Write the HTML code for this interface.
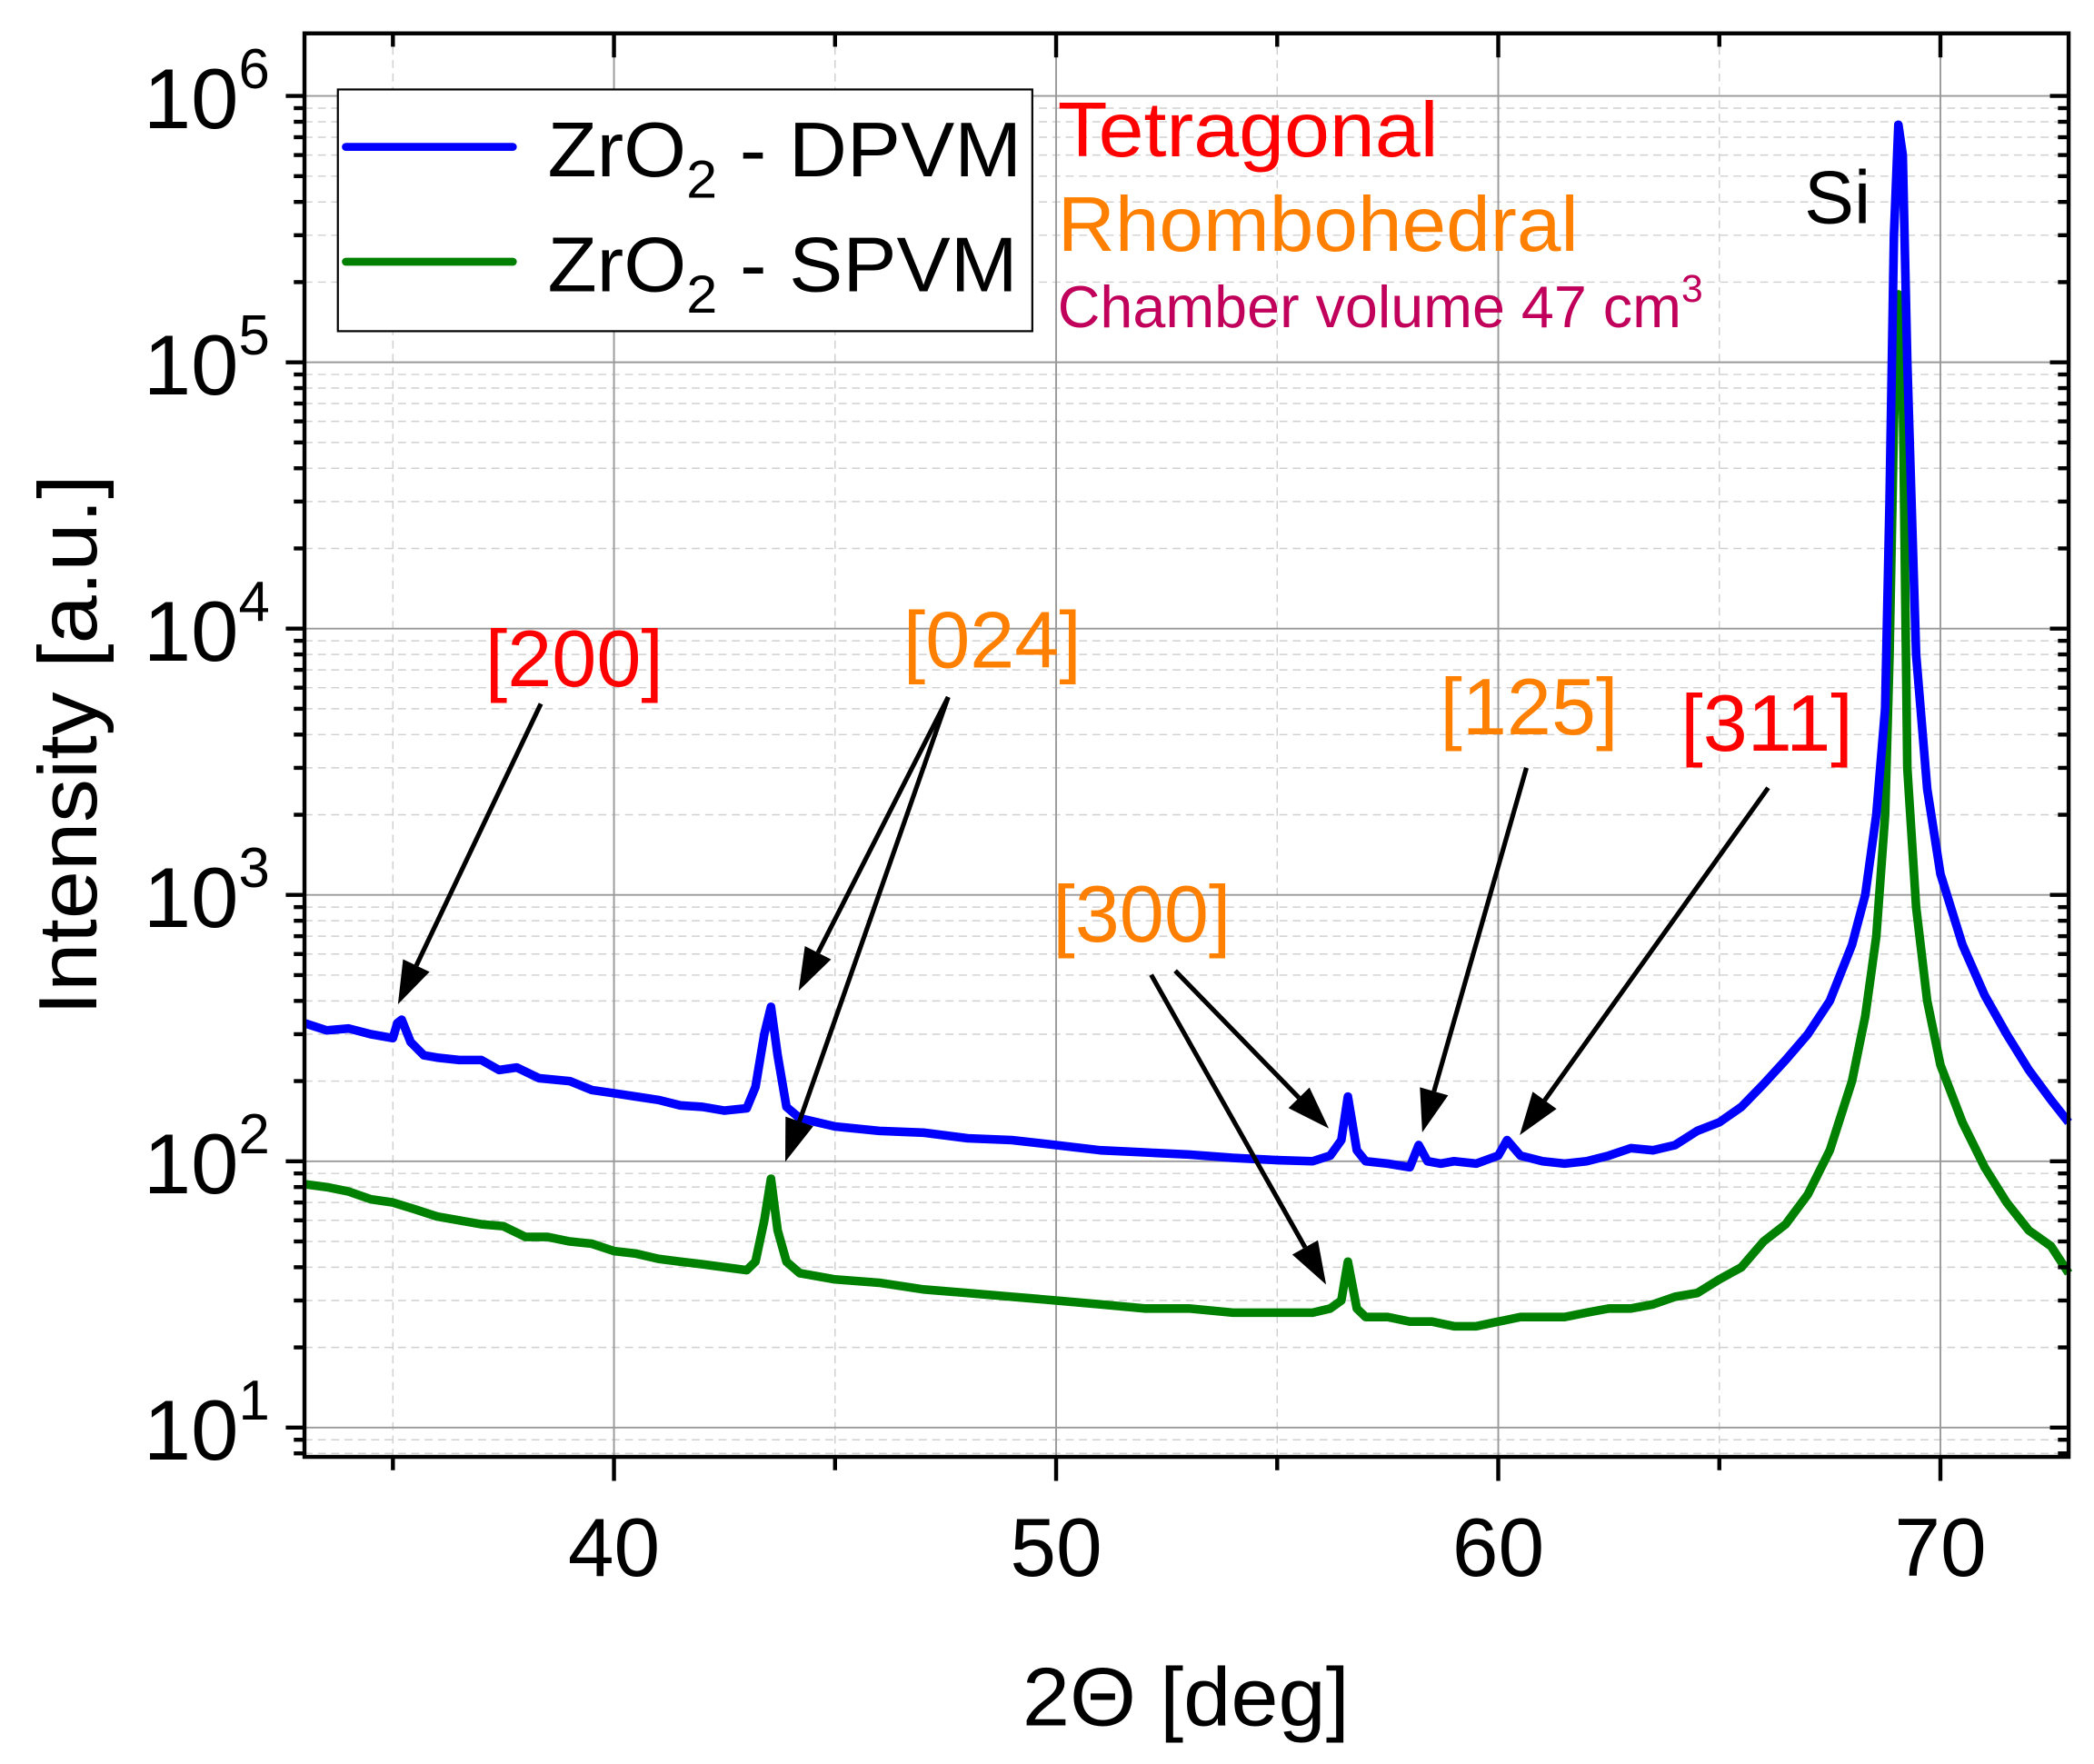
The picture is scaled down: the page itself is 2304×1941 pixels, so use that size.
<!DOCTYPE html>
<html><head><meta charset="utf-8"><style>
html,body{margin:0;padding:0;background:#fff}
svg{display:block}
text{font-family:"Liberation Sans",sans-serif}
</style></head><body>
<svg id="chart" width="2304" height="1941" viewBox="0 0 1568 1321" preserveAspectRatio="none" xmlns="http://www.w3.org/2000/svg">
<g id="grid"></g>
<g id="series"></g>
<g id="annot"></g>
<g id="axes"></g>
<g>
<rect x="253" y="67" width="520" height="181" fill="#fff" stroke="#000" stroke-width="1.5"/>
<line x1="259" y1="110" x2="384" y2="110" stroke="#0000ff" stroke-width="6" stroke-linecap="round"/>
<text x="410" y="132" font-size="58" textLength="355" lengthAdjust="spacingAndGlyphs">ZrO<tspan font-size="40" dy="16">2</tspan><tspan dy="-16"> - DPVM</tspan></text>
<line x1="259" y1="196" x2="384" y2="196" stroke="#008000" stroke-width="6" stroke-linecap="round"/>
<text x="410" y="218" font-size="58" textLength="352" lengthAdjust="spacingAndGlyphs">ZrO<tspan font-size="40" dy="16">2</tspan><tspan dy="-16"> - SPVM</tspan></text>
</g>
<text x="792" y="117" font-size="58" fill="#ff0000" textLength="285" lengthAdjust="spacingAndGlyphs">Tetragonal</text>
<text x="792" y="188" font-size="58" fill="#ff8000" textLength="390" lengthAdjust="spacingAndGlyphs">Rhombohedral</text>
<text x="792" y="245" font-size="44" fill="#c0005a">Chamber volume 47 cm<tspan font-size="29" dy="-19">3</tspan></text>
<text x="1351" y="167" font-size="56" fill="#000">Si</text>
<text x="0" y="0" font-size="62" transform="translate(72,558) rotate(-90)" text-anchor="middle" textLength="405" lengthAdjust="spacingAndGlyphs">Intensity [a.u.]</text>
<text x="888" y="1292" font-size="62" text-anchor="middle" textLength="245" lengthAdjust="spacingAndGlyphs">2Θ [deg]</text>
</svg>
<script>
const blueX=[33,33.5,34,34.5,35,35.1,35.2,35.4,35.7,36,36.5,37,37.4,37.8,38.3,39,39.5,40,40.5,41,41.5,42,42.5,43,43.2,43.4,43.55,43.7,43.9,44.2,45,46,47,48,49,50,51,52,53,54,55,55.8,56.2,56.45,56.6,56.8,57,57.5,58,58.2,58.4,58.7,59,59.5,60,60.2,60.5,61,61.5,62,62.5,63,63.5,64,64.5,65,65.5,66,66.5,67,67.5,68,68.3,68.55,68.75,68.85,68.95,69.05,69.15,69.25,69.45,69.7,70,70.5,71,71.5,72,72.5,72.9];
const blueY=[330,310,315,300,290,330,340,280,250,245,240,240,220,225,205,200,185,180,175,170,162,160,155,158,190,300,380,250,160,145,135,130,128,122,120,115,110,108,106,103,101,100,105,120,175,110,100,98,95,115,100,98,100,98,105,120,105,100,98,100,105,112,110,115,130,140,160,195,240,300,400,650,1000,2000,5000,30000,300000,780000,600000,100000,8000,2500,1200,650,420,300,220,170,140];
const greenX=[33,33.5,34,34.5,35,35.5,36,36.5,37,37.5,38,38.5,39,39.5,40,40.5,41,41.5,42,42.5,43,43.2,43.4,43.55,43.7,43.9,44.2,45,46,47,48,49,50,51,52,53,54,55,55.8,56.2,56.45,56.6,56.8,57,57.5,58,58.5,59,59.5,60,60.5,61,61.5,62,62.5,63,63.5,64,64.5,65,65.5,66,66.5,67,67.5,68,68.3,68.55,68.75,68.85,68.95,69.05,69.15,69.25,69.45,69.7,70,70.5,71,71.5,72,72.5,72.9];
const greenY=[82,80,77,72,70,66,62,60,58,57,52,52,50,49,46,45,43,42,41,40,39,42,60,86,55,42,38,36,35,33,32,31,30,29,28,28,27,27,27,28,30,42,28,26,26,25,25,24,24,25,26,26,26,27,28,28,29,31,32,36,40,50,58,75,110,200,350,700,2000,8000,60000,180000,80000,3000,900,400,230,140,95,70,55,48,38];
const xTicks=[40,50,60,70];
const yExp=[1,2,3,4,5,6];
const X0=33,X1=72.9,PL=228,PR=1549,PT=25,PB=1091;
const LY0=0.89,LY1=6.235;
function sx(v){return PL+(v-X0)/(X1-X0)*(PR-PL);}
function sy(v){return PB-(Math.log10(v)-LY0)/(LY1-LY0)*(PB-PT);}
const NS="http://www.w3.org/2000/svg";
function mk(p,tag,a){const e=document.createElementNS(NS,tag);for(const k in a)e.setAttribute(k,a[k]);p.appendChild(e);return e;}
const grid=document.getElementById('grid'),axes=document.getElementById('axes'),ser=document.getElementById('series'),ann=document.getElementById('annot');
for(let e=0;e<=6;e++)for(let m=2;m<=9;m++){const v=m*Math.pow(10,e);const y=sy(v);if(y<PT||y>PB)continue;
const l=mk(grid,'line',{x1:PL,x2:PR,y1:y,y2:y,stroke:'#d0d0d0','stroke-width':1,'stroke-dasharray':'6,4'});

}
for(let x=35;x<=70;x+=10){const l=mk(grid,'line',{x1:sx(x),x2:sx(x),y1:PT,y2:PB,stroke:'#d0d0d0','stroke-width':1,'stroke-dasharray':'6,4'});

}
yExp.forEach(e=>{const y=sy(Math.pow(10,e));const l=mk(grid,'line',{x1:PL,x2:PR,y1:y,y2:y,stroke:'#999','stroke-width':1.3});

});
xTicks.forEach(x=>{const l=mk(grid,'line',{x1:sx(x),x2:sx(x),y1:PT,y2:PB,stroke:'#999','stroke-width':1.3});

});
function line(xs,ys,col,name){let d='';xs.forEach((x,i)=>{d+=(i?'L':'M')+sx(x).toFixed(1)+','+sy(ys[i]).toFixed(1);});
const p=mk(ser,'path',{d:d,fill:'none',stroke:col,'stroke-width':6.5,'stroke-linejoin':'round'});

}
line(greenX,greenY,'#008000','series-spvm');
line(blueX,blueY,'#0000ff','series-dpvm');
const fr=mk(axes,'rect',{x:PL,y:PT,width:PR-PL,height:PB-PT,fill:'none',stroke:'#000','stroke-width':3});


for(let x=35;x<=70;x+=5){const major=x%10===0;const X=sx(x);
mk(axes,'line',{x1:X,x2:X,y1:PB,y2:PB+(major?18:10),stroke:'#000','stroke-width':3});
mk(axes,'line',{x1:X,x2:X,y1:PT,y2:PT+(major?18:10),stroke:'#000','stroke-width':3});}
xTicks.forEach(x=>{const t=mk(axes,'text',{x:sx(x),y:1180,'font-size':62,'text-anchor':'middle'});t.textContent=x;

});
for(let e=0;e<=6;e++)for(let m=1;m<=9;m++){const v=m*Math.pow(10,e);const y=sy(v);if(y<PT||y>PB)continue;const L=m===1?14:8;
mk(axes,'line',{x1:PL-L,x2:PL,y1:y,y2:y,stroke:'#000','stroke-width':3});
mk(axes,'line',{x1:PR-L,x2:PR,y1:y,y2:y,stroke:'#000','stroke-width':3});}
yExp.forEach(e=>{const t=mk(axes,'text',{x:202,y:sy(Math.pow(10,e))+24,'font-size':64,'text-anchor':'end'});t.textContent='10';
const s=mk(t,'tspan',{'font-size':42,dy:-30});s.textContent=e;

});
const labels=[['[200]',430,514,'#ff0000'],['[024]',743,500,'#ff8000'],['[125]',1145,550,'#ff8000'],['[311]',1323,562,'#ff0000'],['[300]',855,705,'#ff8000']];
labels.forEach(l=>{const t=mk(ann,'text',{x:l[1],y:l[2],'font-size':60,fill:l[3],'text-anchor':'middle'});t.textContent=l[0];

});
const arrows=[[405,527,298,752],[710,522,598,742],[710,522,588,870],[880,727,995,845],[862,730,993,962],[1143,575,1065,848],[1324,590,1138,850]];
arrows.forEach(a=>{const [x1,y1,x2,y2]=a;const dx=x2-x1,dy=y2-y1,L=Math.hypot(dx,dy),ux=dx/L,uy=dy/L;const h=32,w=11;
const bx=x2-ux*h,by=y2-uy*h;
mk(ann,'line',{x1:x1,y1:y1,x2:bx,y2:by,stroke:'#000','stroke-width':3.5});
const p=mk(ann,'polygon',{points:`${x2},${y2} ${bx-uy*w},${by+ux*w} ${bx+uy*w},${by-ux*w}`,fill:'#000'});

});
</script>
</body></html>
